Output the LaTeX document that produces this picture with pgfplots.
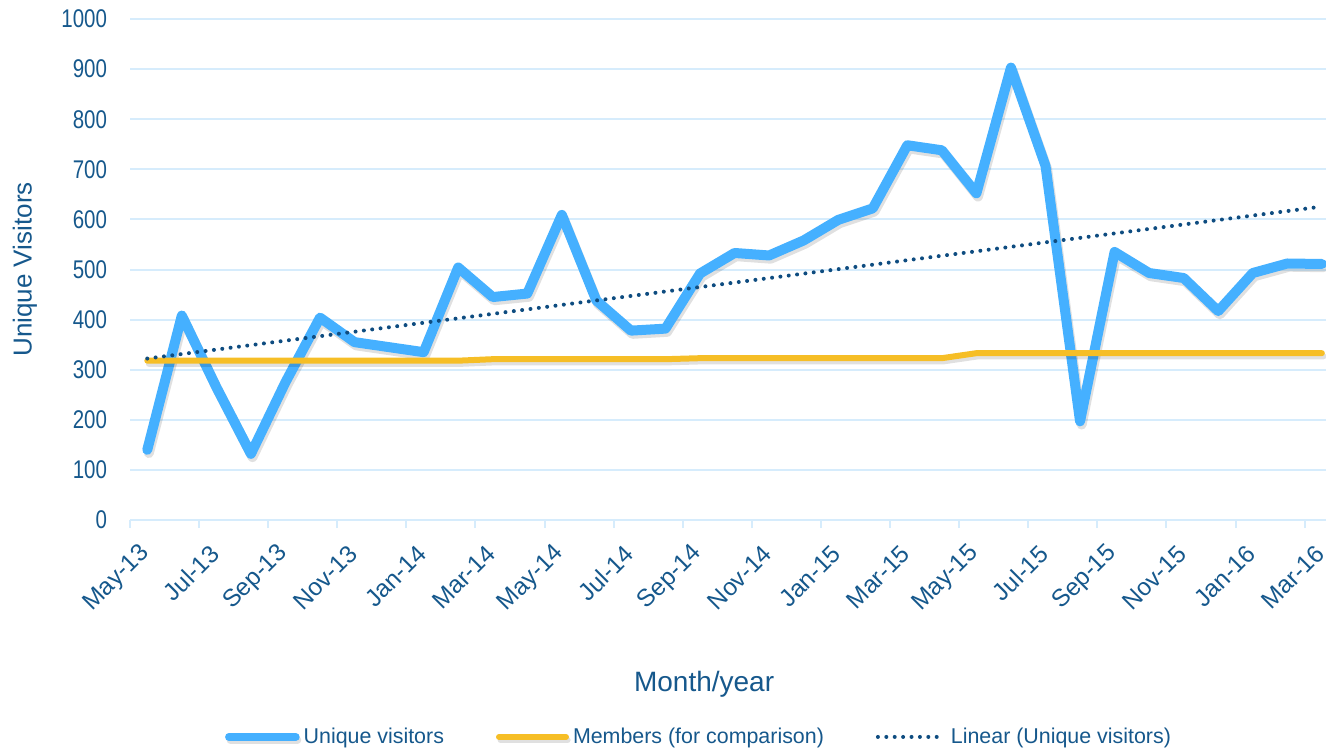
\documentclass[border=0pt]{standalone}
\usepackage{fontspec}
\setmainfont{Liberation Sans}
\newfontfamily\narrowfont{Liberation Sans}[FakeStretch=0.8]
\usepackage{pgfplots}
\usepackage{pgfplotstable}
\pgfplotsset{compat=1.18}
\definecolor{uvblue}{RGB}{69,176,255}
\definecolor{memyellow}{RGB}{246,190,38}
\definecolor{trendcol}{RGB}{14,76,128}
\definecolor{txtblue}{RGB}{22,88,140}
\definecolor{gridcol}{RGB}{214,236,252}

\pgfplotstableread{
k v m
0 140 318
1 408 318
2 265 318
3 132 318
4 275 318
5 404 318
6 355 318
7 345 318
8 335 318
9 504 318
10 445 321
11 452 321
12 609 321
13 438 321
14 378 321
15 382 321
16 492 323
17 533 323
18 528 323
19 558 323
20 599 323
21 622 323
22 748 323
23 738 323
24 652 333
25 903 333
26 707 333
27 197 333
28 535 333
29 493 333
30 483 333
31 417 333
32 493 333
33 512 333
34 511 333
}\datatable

\begin{document}
\begin{tikzpicture}
\begin{axis}[name=ax,
  scale only axis, width=598pt, height=250.5pt,
  xmin=-0.5, xmax=34.12, ymin=0, ymax=1000,
  ytick={0,100,...,1000},
  xtick={0,2,...,34},
  xticklabels={May-13,Jul-13,Sep-13,Nov-13,Jan-14,Mar-14,May-14,Jul-14,Sep-14,Nov-14,Jan-15,Mar-15,May-15,Jul-15,Sep-15,Nov-15,Jan-16,Mar-16},
  minor xtick={-0.5,1.5,...,33.5},
  major tick length=0pt, minor tick length=4pt, tick align=outside,
  every minor tick/.style={gridcol, line width=1pt},
  axis x line*=bottom, axis y line*=left,
  x axis line style={gridcol, line width=1pt, -},
  y axis line style={draw=none},
  ymajorgrids, grid style={gridcol, line width=1pt},
  /pgf/number format/assume math mode=true,
  /pgf/number format/1000 sep={},
  ticklabel style={text=txtblue},
  yticklabel style={font=\narrowfont\fontsize{12.8}{14}\selectfont, anchor=east, xshift=-8pt},
  xticklabel style={font=\fontsize{12.2}{14}\selectfont, rotate=45, anchor=east, inner sep=1pt},
  xticklabel shift=14pt,
  xlabel={Month/year}, ylabel={Unique Visitors},
  every axis x label/.style={at={(axis description cs:0.48,-0.327)}, anchor=center, font=\fontsize{14}{16}\selectfont, text=txtblue},
  every axis y label/.style={at={(axis description cs:-0.0878,0.5)}, rotate=90, anchor=center, font=\fontsize{13}{15}\selectfont, text=txtblue},
  legend style={at={(axis description cs:0.4766,-0.433)}, anchor=center, draw=none, legend columns=3,
    font=\fontsize{10.7}{12}\selectfont, text=txtblue,
    /tikz/every even column/.append style={column sep=24pt}},
  legend cell align=left,
  legend image code/.code={\draw[#1] (0pt,0pt) -- (33.5pt,0pt);},
]
\addplot[uvblue, line width=5pt, line join=round, line cap=round,
  preaction={draw=black, opacity=0.12, transform canvas={xshift=0.8pt, yshift=-1.6pt}},
  legend image post style={line width=3.8pt, preaction={draw=none}}] table[x=k, y=v] {\datatable};
\addlegendentry{Unique visitors}
\addplot[memyellow, line width=3pt, line join=round, line cap=round,
  preaction={draw=black, opacity=0.12, transform canvas={xshift=0.8pt, yshift=-1.6pt}},
  legend image post style={preaction={draw=none}}] table[x=k, y=m] {\datatable};
\addlegendentry{Members (for comparison)}
\addplot[trendcol, line width=2pt, dash pattern=on 0pt off 4.2pt, line cap=round] table[x=k, y={create col/linear regression={y=v}}] {\datatable};
\addlegendentry{Linear (Unique visitors)}
\end{axis}
\pgfresetboundingbox
\path[use as bounding box] ([xshift=-65pt,yshift=-115pt]ax.south west) rectangle ([yshift=9.5pt]ax.north east);
\end{tikzpicture}
\end{document}
